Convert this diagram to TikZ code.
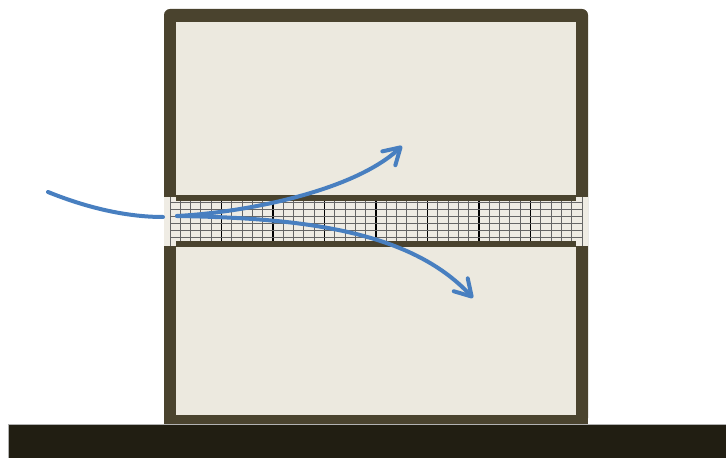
\documentclass[tikz,border=0pt]{standalone}
\usetikzlibrary{arrows.meta}
\definecolor{wallbrown}{RGB}{74,67,46}
\definecolor{roomfill}{RGB}{236,233,223}
\definecolor{groundblack}{RGB}{33,30,18}
\definecolor{flowblue}{RGB}{72,127,192}

\begin{document}
\begin{tikzpicture}[
        x=1pt, y=1pt,
        flow/.style={draw=flowblue, line width=4pt, line cap=round},
        flowtip/.style={-{Straight Barb[length=16pt, width=19pt, round]}},
        thinline/.style={draw=black!60, line width=1pt},
        boldline/.style={draw=black, line width=1.4pt}
    ]
    \useasboundingbox (0,0) rectangle (726,458);

    % ground
    \fill[groundblack] (8,0) rectangle (726,34);
    \draw[gray!60, line width=0.6pt] (8,0) -- (8,34) -- (726,34);

    % walls and room
    \fill[wallbrown, rounded corners=6pt] (164,34) rectangle (588,449);
    \fill[wallbrown] (164,34) rectangle (588,60);
    \fill[roomfill] (176,43) rectangle (576,436);

    % gap through the walls with the mesh
    \fill[roomfill!85!white] (164,212) rectangle (588,261);
    \foreach \i in {0,...,40}
        \draw[thinline] (170+10.3*\i,212) -- (170+10.3*\i,261);
    \foreach \i in {5,10,...,35}
        \draw[boldline] (170+10.3*\i,212) -- (170+10.3*\i,261);
    \foreach \y in {220.5,227.5,...,255.5}
        \draw[thinline] (170,\y) -- (582,\y);
    \fill[wallbrown] (176,257) rectangle (576,263);
    \fill[wallbrown] (176,211) rectangle (576,217);

    % air flow
    \coordinate (inlet) at (48,266);
    \coordinate (wallface) at (163,241);
    \coordinate (split) at (177,242);
    \coordinate (uptip) at (402,312);
    \coordinate (downtip) at (473,160);

    \draw[flow] (inlet) .. controls (85,251) and (125,241) .. (wallface);
    \draw[flow, flowtip] (split) .. controls (250,246) and (355,268) .. (uptip);
    \draw[flow, flowtip] (split) .. controls (300,240) and (410,228) .. (downtip);
\end{tikzpicture}
\end{document}
